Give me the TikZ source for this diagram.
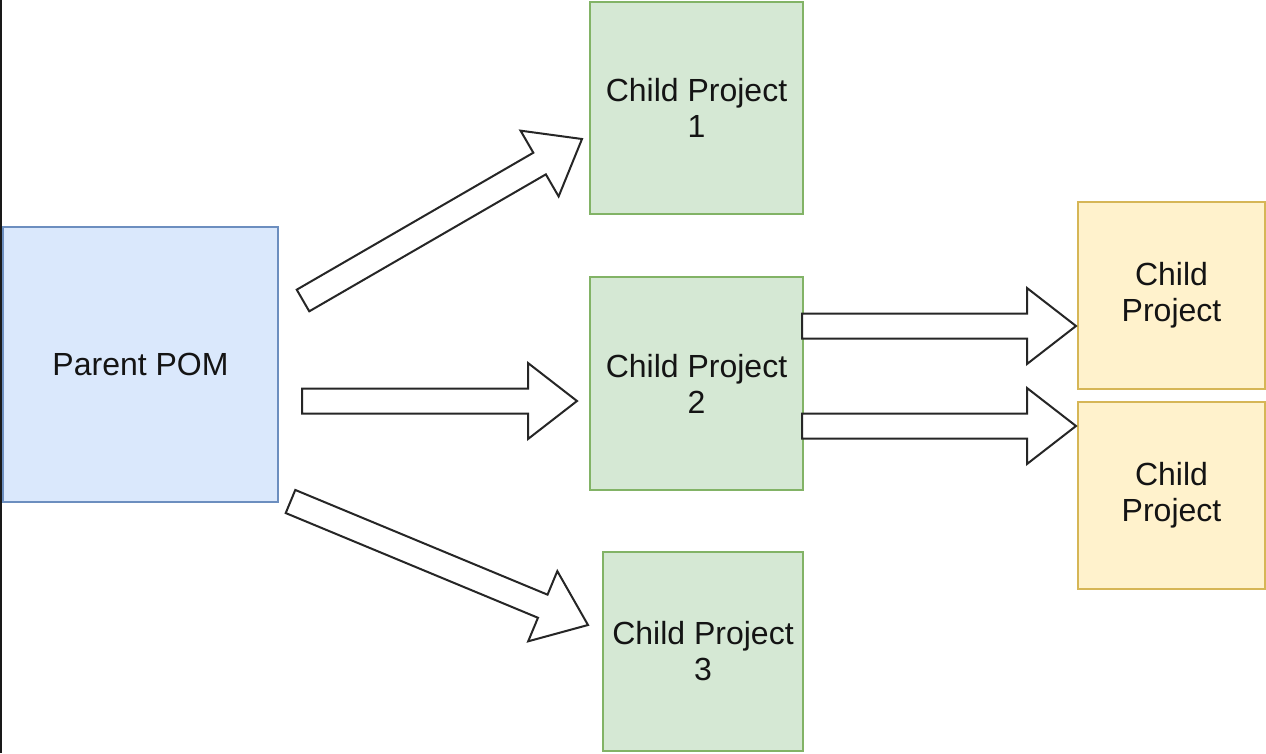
\documentclass[tikz,border=0pt]{standalone}
\usepackage{fontspec}
\setmainfont{Liberation Sans}
\usetikzlibrary{calc}
\definecolor{bluefill}{HTML}{DAE8FC}
\definecolor{bluedraw}{HTML}{6C8EBF}
\definecolor{greenfill}{HTML}{D5E8D4}
\definecolor{greendraw}{HTML}{82B366}
\definecolor{yellowfill}{HTML}{FFF2CC}
\definecolor{yellowdraw}{HTML}{D6B656}
\definecolor{txt}{HTML}{141414}
\newcommand\blockarr[2]{%
  \path ($(#2)!49pt!(#1)$) coordinate (hb);
  \draw[arrowline] ($(#1)!12.5pt!90:(#2)$) -- ($(hb)!12.5pt!90:(#2)$) -- ($(hb)!38pt!90:(#2)$) -- (#2) -- ($(hb)!38pt!-90:(#2)$) -- ($(hb)!12.5pt!-90:(#2)$) -- ($(#1)!12.5pt!-90:(#2)$) -- cycle;}
\begin{document}
\begin{tikzpicture}[x=1pt,y=-1pt,
  box/.style={rectangle, draw, line width=2pt, anchor=north west, inner sep=0pt,
    align=center, text=txt, font=\fontsize{32}{36}\selectfont},
  bluebox/.style={box, fill=bluefill, draw=bluedraw},
  greenbox/.style={box, fill=greenfill, draw=greendraw},
  yellowbox/.style={box, fill=yellowfill, draw=yellowdraw},
  arrowline/.style={draw=black!85, fill=white, line width=2pt, line join=miter}]
\useasboundingbox[fill=white] (0,0) rectangle (1266,753);
\draw[line width=2pt, black!90] (1,0) -- (1,753);
\node[bluebox, minimum width=275pt, minimum height=275pt] (pom) at (2,226) {Parent POM};
\node[greenbox, minimum width=213pt, minimum height=212pt] (c1) at (589,1) {Child Project\\1};
\node[greenbox, minimum width=213pt, minimum height=213pt] (c2) at (589,276) {Child Project\\2};
\node[greenbox, minimum width=200pt, minimum height=199pt] (c3) at (602,551) {Child Project\\3};
\node[yellowbox, minimum width=187pt, minimum height=187pt] (y1) at (1077,201) {Child\\Project};
\node[yellowbox, minimum width=187pt, minimum height=187pt] (y2) at (1077,401) {Child\\Project};
\coordinate (t1) at (303,300.5);
\coordinate (e1) at (582,139);
\coordinate (t2) at (302,401);
\coordinate (e2) at (577,401);
\coordinate (t3) at (290.5,501.5);
\coordinate (e3) at (588,625);
\coordinate (t4) at (802,326);
\coordinate (e4) at (1076,326);
\coordinate (t5) at (802,426);
\coordinate (e5) at (1076,426);
\blockarr{t1}{e1}
\blockarr{t2}{e2}
\blockarr{t3}{e3}
\blockarr{t4}{e4}
\blockarr{t5}{e5}
\end{tikzpicture}
\end{document}
